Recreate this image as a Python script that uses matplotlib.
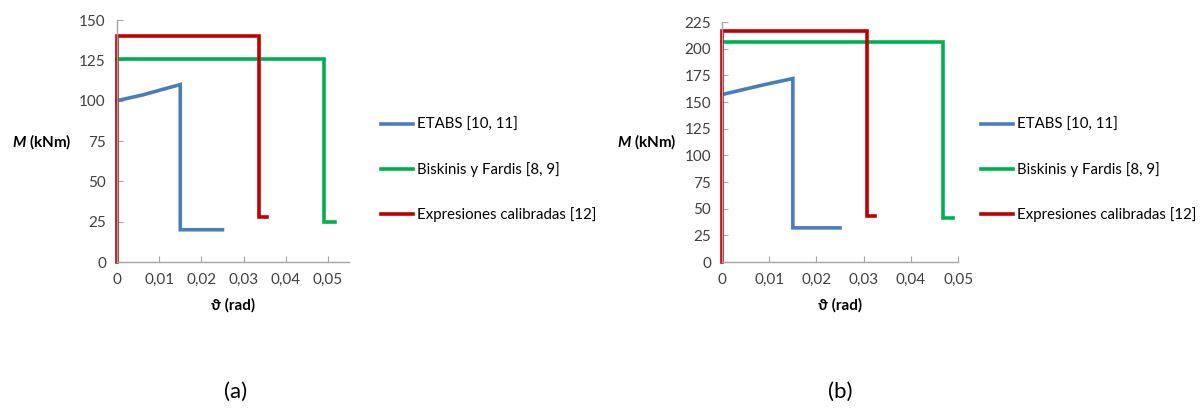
import matplotlib
matplotlib.use("Agg")
import matplotlib.pyplot as plt

plt.rcParams["font.family"] = ["Lato", "DejaVu Sans"]
plt.rcParams["mathtext.fontset"] = "custom"
plt.rcParams["mathtext.it"] = "Lato:bold:italic"
plt.rcParams["mathtext.rm"] = "Lato:bold"

# (a)
etabs_a_x = [0, 0.006, 0.015, 0.015, 0.025]
etabs_a_y = [100, 103.5, 110, 20, 20]
bf_a_x = [0, 0.049, 0.049, 0.0517]
bf_a_y = [126, 126, 25, 25]
cal_a_x = [0, 0, 0.0336, 0.0336, 0.0355]
cal_a_y = [0, 140, 140, 28, 28]

# (b)
etabs_b_x = [0, 0.0087, 0.015, 0.015, 0.025]
etabs_b_y = [157, 166, 172, 32, 32]
bf_b_x = [0, 0.0468, 0.0468, 0.049]
bf_b_y = [206, 206, 41, 41]
cal_b_x = [0, 0, 0.0307, 0.0307, 0.0324]
cal_b_y = [0, 217, 217, 43, 43]

labels = ["ETABS [10, 11]", "Biskinis y Fardis [8, 9]", "Expresiones calibradas [12]"]
colors = ["#4a7ebb", "#00b050", "#c00000"]
xticks = [0, 0.01, 0.02, 0.03, 0.04, 0.05]
xticklabels = ["0", "0,01", "0,02", "0,03", "0,04", "0,05"]

fig = plt.figure(figsize=(12, 4.09), dpi=100)

panels = [
    dict(rect=[0.0975, 0.3594, 0.1933, 0.5917], xmax=0.055, ymax=150,
         yticks=range(0, 151, 25),
         data=[(etabs_a_x, etabs_a_y), (bf_a_x, bf_a_y), (cal_a_x, cal_a_y)],
         leg_x=0.3125, tag="(a)", tag_x=0.196),
    dict(rect=[0.6017, 0.3594, 0.1967, 0.5868], xmax=0.05, ymax=225,
         yticks=range(0, 226, 25),
         data=[(etabs_b_x, etabs_b_y), (bf_b_x, bf_b_y), (cal_b_x, cal_b_y)],
         leg_x=0.8125, tag="(b)", tag_x=0.700),
]

for p in panels:
    ax = fig.add_axes(p["rect"])
    for (x, y), c, lab in zip(p["data"], colors, labels):
        ax.plot(x, y, color=c, lw=2.6, label=lab, solid_joinstyle="miter", clip_on=False)
    ax.set_xlim(0, p["xmax"])
    ax.set_ylim(0, p["ymax"])
    ax.set_xticks(xticks)
    ax.set_xticklabels(xticklabels)
    ax.set_yticks(list(p["yticks"]))
    for s in ["top", "right"]:
        ax.spines[s].set_visible(False)
    for s in ["left", "bottom"]:
        ax.spines[s].set_color("#a6a6a6")
        ax.spines[s].set_linewidth(1.0)
    ax.tick_params(direction="in", length=4, color="#a6a6a6", labelsize=11,
                   labelcolor="#404040", pad=8)
    ax.set_xlabel("ϑ (rad)", fontsize=11, fontweight="bold", labelpad=8)
    x0 = p["rect"][0]
    fig.text(x0 - 45 / 1200, 1 - 142 / 409, "$M$ (kNm)", ha="right", va="center",
             fontsize=11, fontweight="bold")
    fig.legend(*ax.get_legend_handles_labels(), loc="center left",
               bbox_to_anchor=(p["leg_x"], 1 - 170 / 409), frameon=False,
               fontsize=10.8, handlelength=2.1, handletextpad=0.3, labelspacing=2.0,
               borderaxespad=0)
    fig.text(p["tag_x"], 1 - 392 / 409, p["tag"], ha="center", va="center", fontsize=16)

fig.savefig("out.png", dpi=100)
